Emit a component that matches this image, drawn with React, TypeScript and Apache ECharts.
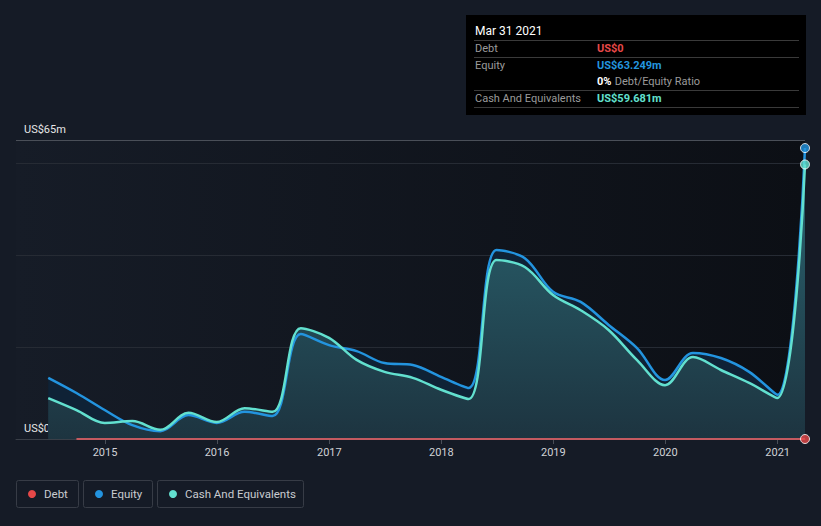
import React, { useEffect, useRef } from "react";
import * as echarts from "echarts";

const dates = [
  "2014-06-30", "2014-09-30", "2014-12-31", "2015-03-31", "2015-06-30", "2015-09-30",
  "2015-12-31", "2016-03-31", "2016-06-30", "2016-09-30", "2016-12-31", "2017-03-31",
  "2017-06-30", "2017-09-30", "2017-12-31", "2018-03-31", "2018-06-30", "2018-09-30",
  "2018-12-31", "2019-03-31", "2019-06-30", "2019-09-30", "2019-12-31", "2020-03-31",
  "2020-06-30", "2020-09-30", "2020-12-31", "2021-03-31",
];
const equity = [
  13.3, 10.0, 6.3, 3.0, 1.7, 5.2, 3.5, 5.9, 5.0, 22.8, 20.4, 19.1, 16.5, 16.1, 13.5, 11.1,
  41.1, 39.3, 32.0, 29.8, 24.8, 19.8, 12.8, 18.7, 17.6, 14.6, 9.6, 63.249,
];
const cash = [
  8.9, 6.3, 3.5, 3.9, 2.0, 5.7, 3.7, 6.7, 5.9, 24.1, 22.0, 17.2, 14.6, 13.3, 10.7, 8.7,
  38.9, 37.4, 31.3, 28.0, 23.7, 17.2, 11.7, 17.8, 15.0, 12.2, 8.9, 59.681,
];
const debtDates = dates.slice(1);
const debt = debtDates.map(() => 0);
const tickYears = [2015, 2016, 2017, 2018, 2019, 2020, 2021];
const yTickLabels: Record<number, string> = { 0: "US$0", 65: "US$65m" };

const RED = "#e64848";
const BLUE = "#2394df";
const TEAL = "#62e0cf";
const FONT = "Roboto, 'Noto Sans', sans-serif";

const ts = (d: string) => {
  const [y, m, dd] = d.split("-").map(Number);
  return Date.UTC(y, m - 1, dd);
};

export default function App() {
  const ref = useRef<HTMLDivElement>(null);
  useEffect(() => {
    if (!ref.current) return;
    const chart = echarts.init(ref.current, undefined, { renderer: "svg" });
    const xMin = Date.UTC(2015, 0, 1) - 290 * 86400000;
    const xMax = ts("2021-03-31");
    const last = dates.length - 1;
    const lastDate = new Date(ts(dates[last]));
    const months = ["Jan","Feb","Mar","Apr","May","Jun","Jul","Aug","Sep","Oct","Nov","Dec"];
    const dateLabel = `${months[lastDate.getUTCMonth()]} ${lastDate.getUTCDate()} ${lastDate.getUTCFullYear()}`;
    const ratio = Math.round((debt[debt.length - 1] / equity[last]) * 100);
    const yearTicks = tickYears.map((y) => Date.UTC(y, 0, 1));
    const equityData = dates.map((d, i) => [ts(d), equity[i]]);
    const cashData = dates.map((d, i) => [ts(d), cash[i]]);
    const SMOOTH = 0.35;

    const tipX = 466, tipY = 15;
    const rowLine = (y: number) => ({
      type: "line",
      shape: { x1: tipX + 8, y1: y, x2: tipX + 333, y2: y },
      style: { stroke: "#3a3a3a", lineWidth: 1 },
    });
    const txt = (x: number, y: number, text: string, fill: string, size = 11, weight: any = "normal") => ({
      type: "text",
      x, y,
      style: { text, fill, font: `${weight} ${size}px ${FONT}`, verticalAlign: "middle" },
    });
    const legendItem = (x: number, w: number, color: string, label: string) => ({
      type: "group",
      children: [
        { type: "rect", shape: { x: x + 0.5, y: 480.5, width: w, height: 27, r: 2 }, style: { fill: "transparent", stroke: "#373c46", lineWidth: 1 } },
        { type: "circle", shape: { cx: x + 16, cy: 494, r: 4 }, style: { fill: color } },
        txt(x + 28, 494, label, "#c9cbd0", 11.5),
      ],
    });

    chart.setOption({
      animation: false,
      backgroundColor: "#151b26",
      textStyle: { fontFamily: FONT },
      grid: {
        left: 16, right: 16, top: 140, bottom: 87,
        show: true, borderWidth: 0,
        backgroundColor: new echarts.graphic.LinearGradient(0, 0, 1, 0, [
          { offset: 0, color: "#161c27" },
          { offset: 1, color: "#0c0f15" },
        ]),
      },
      xAxis: {
        type: "value",
        min: xMin,
        max: xMax,
        axisLine: { show: true, lineStyle: { color: "#3a3f48", width: 1 } },
        axisTick: {
          show: true, length: 5, lineStyle: { color: "#4a4f58" },
          customValues: yearTicks,
        },
        axisLabel: {
          color: "#d0d2d6", fontSize: 11, margin: 8, fontFamily: FONT,
          customValues: yearTicks,
          formatter: (v: number) => String(new Date(v).getUTCFullYear()),
        },
        splitLine: { show: false },
      },
      yAxis: {
        type: "value",
        min: 0, max: 65, interval: 20,
        axisLine: { show: false },
        axisTick: { show: false },
        axisLabel: {
          inside: true, color: "#e6e6e6", fontSize: 11, fontFamily: FONT,
          verticalAlign: "bottom", align: "left", margin: 8, padding: [0, 0, 5, 0],
          formatter: (v: number) => yTickLabels[v] ?? "",
        },
        splitLine: {
          show: true,
          lineStyle: { color: ["#3a3f48", "#262b34", "#262b34", "#262b34", "#4a4f58"], width: 1 },
        },
      },
      series: [
        {
          name: "Equity area",
          type: "line",
          smooth: SMOOTH,
          showSymbol: false,
          data: equityData,
          lineStyle: { width: 0, opacity: 0 },
          areaStyle: { color: "#0f2236", opacity: 1 },
          z: 1,
        },
        {
          name: "Cash area",
          type: "line",
          smooth: SMOOTH,
          showSymbol: false,
          data: cashData,
          lineStyle: { width: 0, opacity: 0 },
          areaStyle: {
            opacity: 1,
            color: new echarts.graphic.LinearGradient(0, 0, 0, 1, [
              { offset: 0, color: "#2a6470" },
              { offset: 1, color: "#1d3440" },
            ]),
          },
          z: 2,
        },
        {
          name: "Equity",
          type: "line",
          smooth: SMOOTH,
          showSymbol: false,
          data: equityData,
          lineStyle: { color: BLUE, width: 2.5 },
          itemStyle: { color: BLUE },
          z: 3,
        },
        {
          name: "Cash And Equivalents",
          type: "line",
          smooth: SMOOTH,
          showSymbol: false,
          data: cashData,
          lineStyle: { color: TEAL, width: 2.5 },
          itemStyle: { color: TEAL },
          z: 4,
        },
        {
          name: "Debt",
          type: "line",
          showSymbol: false,
          data: debtDates.map((d, i) => [ts(d), debt[i]]),
          lineStyle: { color: "#c45a60", width: 2 },
          itemStyle: { color: RED },
          z: 5,
        },
        {
          type: "scatter",
          symbolSize: 9,
          clip: false,
          z: 6,
          data: [
            { value: [ts(dates[last]), equity[last]], itemStyle: { color: BLUE } },
            { value: [ts(dates[last]), cash[last]], itemStyle: { color: TEAL } },
            { value: [ts(debtDates[debtDates.length - 1]), debt[debt.length - 1]], itemStyle: { color: RED } },
          ],
          itemStyle: { borderColor: "#ffffff", borderWidth: 1 },
        },
      ],
      graphic: [
        { type: "rect", shape: { x: tipX, y: tipY, width: 340, height: 100 }, style: { fill: "#000000" } },
        txt(tipX + 9, 31, dateLabel, "#ffffff", 12),
        rowLine(40.5),
        txt(tipX + 9, 48.5, "Debt", "#9b9b9b"),
        txt(tipX + 131, 48.5, `US$${debt[debt.length - 1]}`, RED, 11, "bold"),
        rowLine(57.5),
        txt(tipX + 9, 65, "Equity", "#9b9b9b"),
        txt(tipX + 131, 65, `US$${equity[last].toFixed(3)}m`, BLUE, 11, "bold"),
        {
          type: "text", x: tipX + 131, y: 81.5,
          style: {
            text: `{a|${ratio}%} {b|Debt/Equity Ratio}`,
            verticalAlign: "middle",
            rich: {
              a: { fill: "#ffffff", font: `bold 11px ${FONT}` },
              b: { fill: "#9b9b9b", font: `normal 11px ${FONT}` },
            },
          },
        },
        rowLine(90.5),
        txt(tipX + 9, 98.5, "Cash And Equivalents", "#9b9b9b"),
        txt(tipX + 131, 98.5, `US$${cash[last].toFixed(3)}m`, TEAL, 11, "bold"),
        rowLine(107.5),
        legendItem(16, 62, RED, "Debt"),
        legendItem(83, 69, BLUE, "Equity"),
        legendItem(157, 146, TEAL, "Cash And Equivalents"),
      ],
    });
    return () => chart.dispose();
  }, []);
  return <div ref={ref} style={{ width: 821, height: 526, position: "absolute", left: 0, top: 0 }} />;
}
